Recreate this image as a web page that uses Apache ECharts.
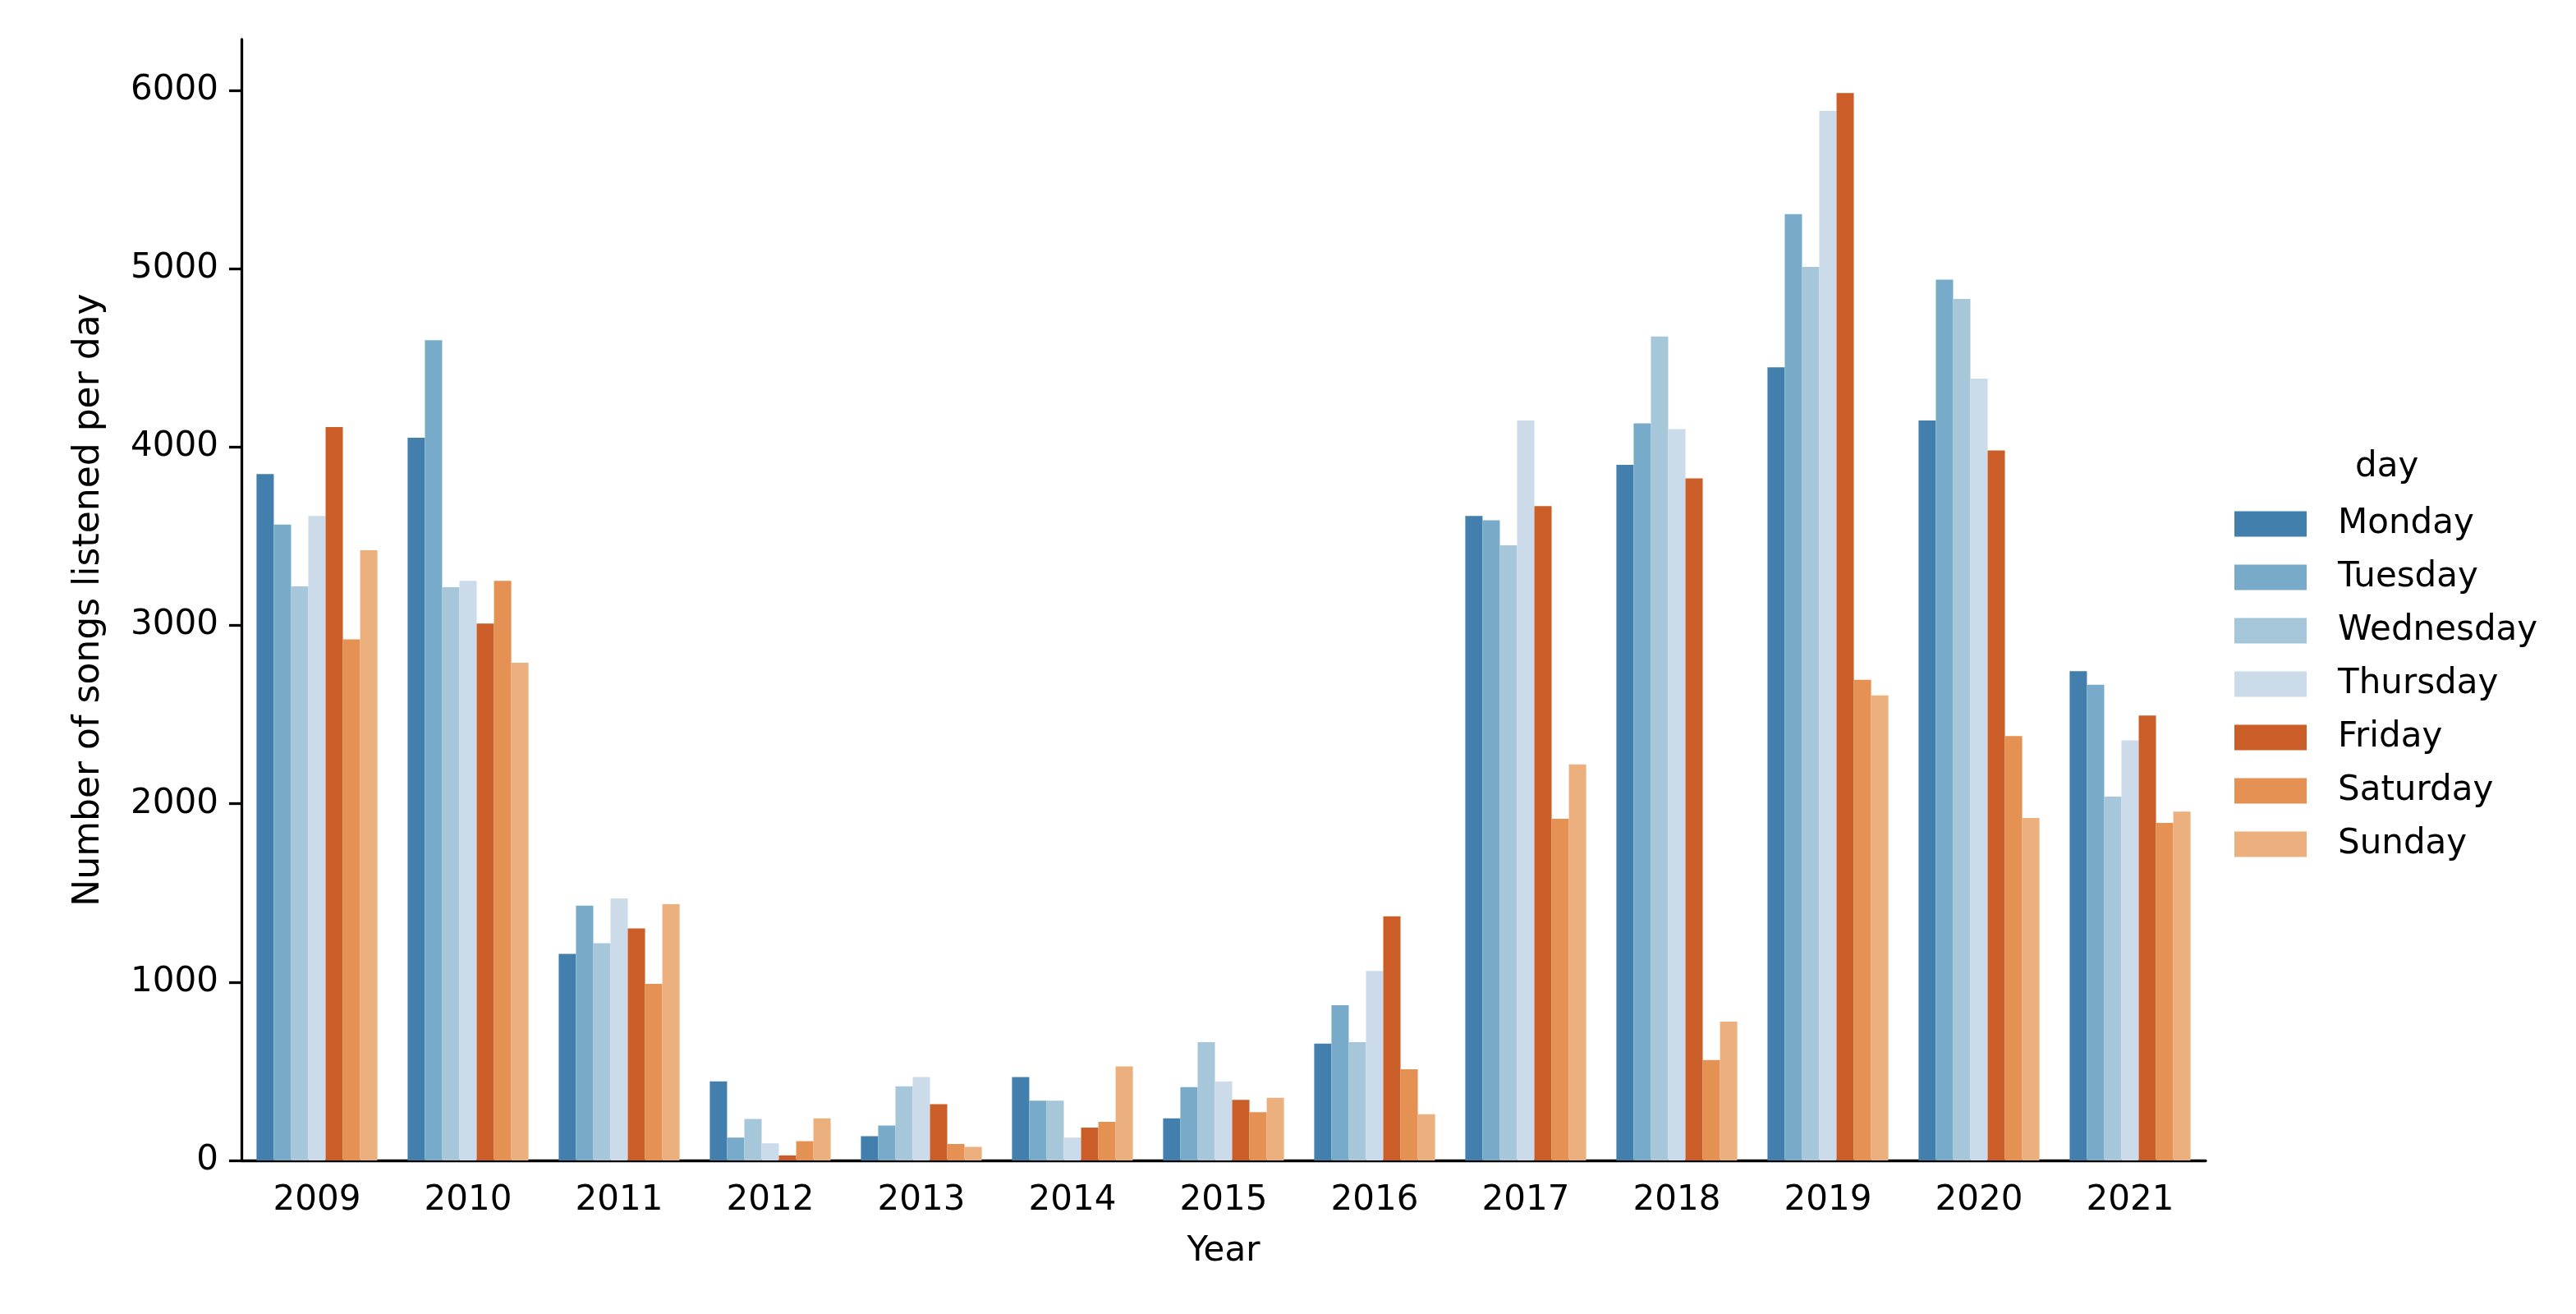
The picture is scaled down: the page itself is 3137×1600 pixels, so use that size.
<!DOCTYPE html>
<html>
<head>
<meta charset="utf-8">
<script src="https://cdn.jsdelivr.net/npm/echarts@6/dist/echarts.min.js"></script>
<style>
html,body{margin:0;padding:0;background:#fff;}
#chart{width:3137px;height:1600px;}
</style>
</head>
<body>
<div id="chart"></div>
<script>
const years = ['2009','2010','2011','2012','2013','2014','2015','2016','2017','2018','2019','2020','2021'];
const days = ['Monday','Tuesday','Wednesday','Thursday','Friday','Saturday','Sunday'];
const monday    = [3848, 4052, 1158, 443, 136, 467, 236, 655, 3613, 3900, 4447, 4148, 2743];
const tuesday   = [3565, 4599, 1429, 128, 196, 335, 411, 870, 3589, 4132, 5305, 4938, 2667];
const wednesday = [3218, 3214, 1218, 232, 415, 335, 663, 663, 3449, 4619, 5010, 4830, 2040];
const thursday  = [3613, 3250, 1469,  96, 467, 128, 443, 1062, 4148, 4100, 5884, 4383, 2355];
const friday    = [4112, 3010, 1301,  28, 315, 184, 339, 1369, 3669, 3824, 5984, 3980, 2495];
const saturday  = [2922, 3250,  990, 108,  92, 216, 271, 511, 1916, 563, 2695, 2379, 1892];
const sunday    = [3421, 2790, 1437, 236,  76, 527, 351, 259, 2220, 778, 2607, 1920, 1956];
const yTicks = [0, 1000, 2000, 3000, 4000, 5000, 6000];
const colors = ['#437FAC', '#78ABC9', '#A6C7D9', '#CBDBEA', '#CB5E28', '#E59154', '#EBB07D'];
const seriesData = [monday, tuesday, wednesday, thursday, friday, saturday, sunday];

const FONT = 'DejaVu Sans';
const FS = 42;
const chart = echarts.init(document.getElementById('chart'), null, {renderer: 'canvas'});
chart.setOption({
  animation: false,
  backgroundColor: '#ffffff',
  textStyle: {fontFamily: FONT},
  grid: {left: 294, right: 451, top: 48, bottom: 187, containLabel: false},
  legend: {
    orient: 'vertical',
    left: 2716,
    top: 612,
    itemWidth: 88,
    itemHeight: 31,
    itemGap: 23,
    icon: 'rect',
    data: days,
    textStyle: {fontFamily: FONT, fontSize: FS, color: '#000', lineHeight: 42, padding: [0, 0, 0, 33]}
  },
  graphic: [{
    type: 'text', left: 2868, top: 548,
    style: {text: 'day', font: FS + 'px "DejaVu Sans"', fill: '#000'}
  }],
  xAxis: {
    type: 'category',
    data: years,
    name: 'Year',
    nameLocation: 'middle',
    nameGap: 90,
    nameTextStyle: {fontFamily: FONT, fontSize: FS, color: '#000'},
    axisLine: {lineStyle: {color: '#000', width: 3.3}},
    axisTick: {alignWithLabel: true, length: 15, lineStyle: {color: '#000', width: 3.3}},
    axisLabel: {fontFamily: FONT, fontSize: FS, color: '#000', margin: 28},
    splitLine: {show: false}
  },
  yAxis: {
    type: 'value',
    min: 0,
    max: 6285,
    name: 'Number of songs listened per day',
    nameLocation: 'middle',
    nameGap: 163,
    nameTextStyle: {fontFamily: FONT, fontSize: 44, color: '#000'},
    axisLine: {show: true, lineStyle: {color: '#000', width: 3.3}},
    axisTick: {show: true, length: 15, lineStyle: {color: '#000', width: 3.3}, customValues: yTicks},
    axisLabel: {fontFamily: FONT, fontSize: FS, color: '#000', margin: 28, customValues: yTicks,
      formatter: v => String(v)},
    splitLine: {show: false}
  },
  series: days.map((d, i) => ({
    name: d,
    type: 'bar',
    data: seriesData[i],
    itemStyle: {color: colors[i]},
    barGap: '0%',
    barCategoryGap: '20%'
  }))
});
</script>
</body>
</html>
